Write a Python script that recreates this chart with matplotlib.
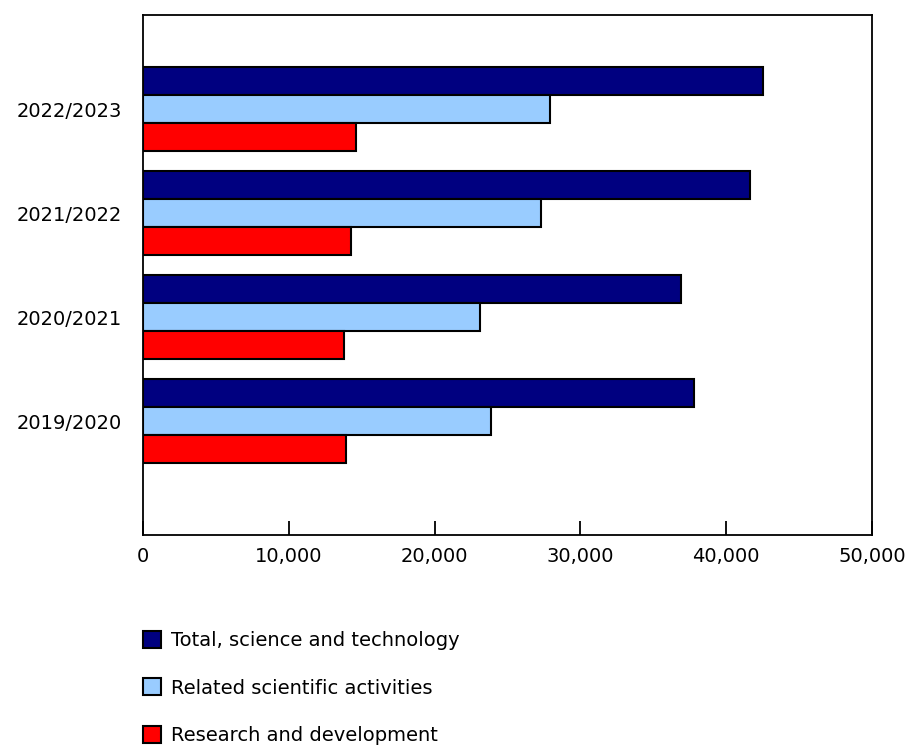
import numpy as np
import matplotlib.pyplot as plt
from matplotlib.patches import Patch
from matplotlib.ticker import FuncFormatter

# ---------------------------------------------------------------------------
# Data
# ---------------------------------------------------------------------------
years = ['2019/2020', '2020/2021', '2021/2022', '2022/2023']
total_st = [37800, 36900, 41600, 42500]
related_sci = [23900, 23100, 27300, 27900]
rnd = [13900, 13800, 14300, 14600]

series_names = ['Total, science and technology',
                'Related scientific activities',
                'Research and development']
colours = ['#000080', '#99CCFF', '#FF0000']

FS = 14

fig = plt.figure(figsize=(9.09, 7.55), dpi=100)
ax = fig.add_axes([143 / 909, 1 - 535 / 755, (872 - 143) / 909, 520 / 755])

y = np.arange(len(years))
h = 0.27
for k, (vals, col) in enumerate(zip([total_st, related_sci, rnd], colours)):
    ax.barh(y + (1 - k) * h, vals, height=h, color=col,
            edgecolor='black', linewidth=1.5, zorder=3)

ax.set_xlim(0, 50000)
ax.set_ylim(-1.096, len(years) - 1 + 0.904)
ax.set_xticks(np.arange(0, 50001, 10000))
ax.xaxis.set_major_formatter(FuncFormatter(lambda v, p: f'{int(v):,}'))
ax.set_yticks(y)
ax.set_yticklabels(years)
ax.tick_params(axis='x', direction='in', length=10, width=1.3, pad=9,
               labelsize=FS)
ax.tick_params(axis='y', length=0, pad=15, labelsize=FS)
for s in ax.spines.values():
    s.set_linewidth(1.3)

handles = [Patch(facecolor=c, edgecolor='black', linewidth=1.5)
           for c in colours]
fig.legend(handles, series_names, loc='upper left',
           bbox_to_anchor=(143 / 909, 1 - 631 / 755), frameon=False,
           fontsize=FS, handlelength=0.95, handleheight=0.95,
           handletextpad=0.5, labelspacing=1.46, borderpad=0,
           borderaxespad=0)

fig.savefig('out.png', dpi=100)
